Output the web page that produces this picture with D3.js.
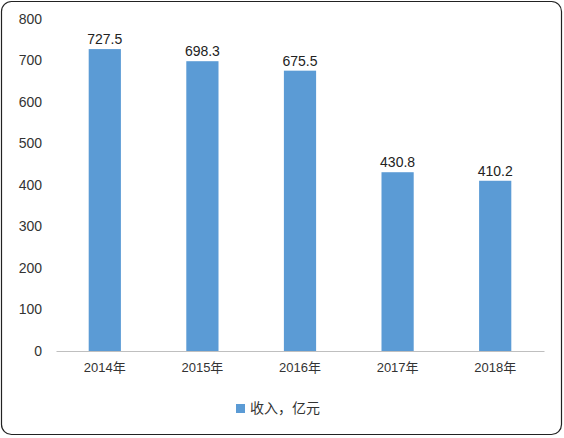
<!DOCTYPE html>
<html><head><meta charset="utf-8">
<script src="https://cdn.jsdelivr.net/npm/d3@7"></script>
<style>body{margin:0;background:#fff;font-family:"Liberation Sans","Noto Sans CJK SC",sans-serif;}</style>
</head><body>
<svg id="chart" width="564" height="438"></svg>
<script>
var categories = ['2014年', '2015年', '2016年', '2017年', '2018年'];
var values = [727.5, 698.3, 675.5, 430.8, 410.2];
var yTicks = [0, 100, 200, 300, 400, 500, 600, 700, 800];
var seriesName = '收入，亿元';

var svg = d3.select('#chart');
svg.append('rect').attr('x', 1.5).attr('y', 1.5).attr('width', 560).attr('height', 433)
    .attr('rx', 10).attr('fill', '#fff').attr('stroke', '#222').attr('stroke-width', 1.2);

var x = d3.scaleBand().domain(categories).range([56, 544]).paddingInner(0.67).paddingOuter(0.335);
var y = d3.scaleLinear().domain([0, 800]).range([351, 19]);

var yAxis = svg.append('g').attr('transform', 'translate(46,0)')
    .call(d3.axisLeft(y).tickValues(yTicks).tickSize(0).tickPadding(4));
yAxis.select('.domain').remove();
yAxis.selectAll('text').attr('font-size', 14).attr('fill', '#333')
    .attr('font-family', '"Liberation Sans",sans-serif');

svg.selectAll('rect.bar').data(values).enter().append('rect').attr('class', 'bar')
    .attr('x', function(d, i){ return x(categories[i]); })
    .attr('y', function(d){ return y(d); })
    .attr('width', x.bandwidth())
    .attr('height', function(d){ return y(0) - y(d); })
    .attr('fill', '#5B9BD5');

svg.selectAll('text.val').data(values).enter().append('text').attr('class', 'val')
    .attr('x', function(d, i){ return x(categories[i]) + x.bandwidth() / 2; })
    .attr('y', function(d){ return y(d) - 5; })
    .attr('text-anchor', 'middle').attr('font-size', 14).attr('fill', '#222')
    .text(function(d){ return d.toFixed(1); });

var xAxis = svg.append('g').attr('transform', 'translate(0,351)')
    .call(d3.axisBottom(x).tickSize(0).tickPadding(12));
xAxis.select('.domain').attr('stroke', '#bfbfbf');
xAxis.selectAll('text').attr('font-size', 13).attr('fill', '#333')
    .attr('font-family', '"Liberation Sans","Noto Sans CJK SC",sans-serif');

var legend = svg.append('g').attr('transform', 'translate(236,404)');
legend.append('rect').attr('width', 9).attr('height', 9).attr('fill', '#5B9BD5');
legend.append('text').attr('x', 14).attr('y', 9).attr('font-size', 14).attr('fill', '#333')
    .attr('font-family', '"Noto Sans CJK SC",sans-serif').text(seriesName);
</script>
</body></html>
